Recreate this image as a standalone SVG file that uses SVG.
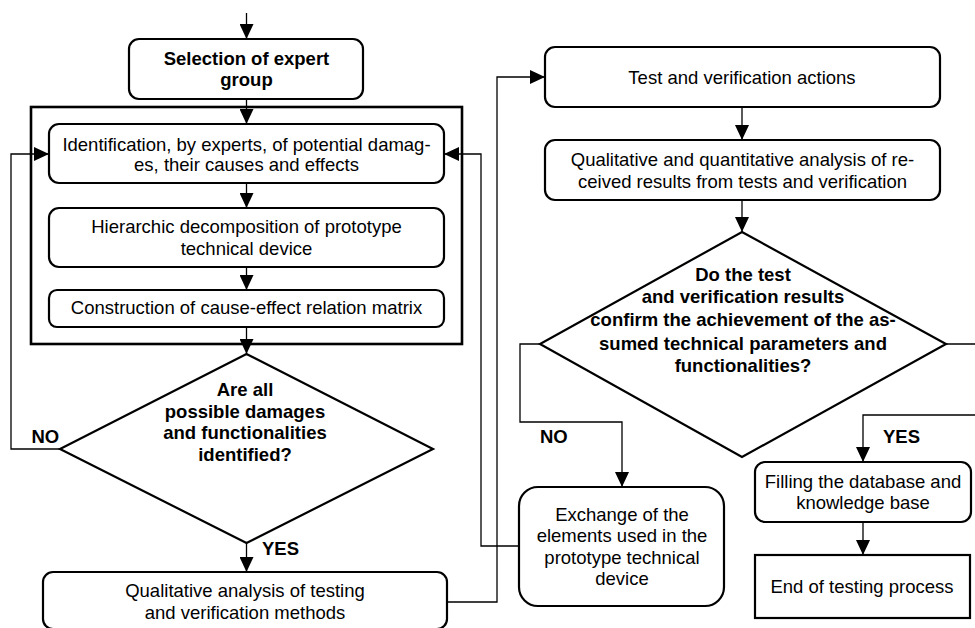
<svg xmlns="http://www.w3.org/2000/svg" width="975" height="628" viewBox="0 0 975 628">
<style>
.box{fill:#fff;stroke:#000;stroke-width:2.2}
.frame{fill:none;stroke:#000;stroke-width:2.6}
.con{fill:none;stroke:#000;stroke-width:1.3}
text{font-family:"Liberation Sans",Arial,sans-serif;font-size:18.5px;fill:#000;text-anchor:middle}
.b{font-weight:bold}
.lbl{font-weight:bold;text-anchor:start}
</style>
<defs>
<marker id="ah" markerUnits="userSpaceOnUse" markerWidth="15" markerHeight="14" refX="15" refY="7" orient="auto">
<path d="M0,0 L15,7 L0,14 z" fill="#000"/>
</marker>
</defs>
<rect id="frame" class="frame" x="31" y="107" width="431" height="237"/>
<g id="connectors">
<path class="con" d="M246.5,13 V39" marker-end="url(#ah)"/>
<path class="con" d="M246.5,99 V124" marker-end="url(#ah)"/>
<path class="con" d="M246.5,183 V208" marker-end="url(#ah)"/>
<path class="con" d="M246.5,267 V290" marker-end="url(#ah)"/>
<path class="con" d="M246.5,327 V354" marker-end="url(#ah)"/>
<path class="con" d="M60,449 H11 V154 H49" marker-end="url(#ah)"/>
<path class="con" d="M246.5,543 V572" marker-end="url(#ah)"/>
<path class="con" d="M447,602 H497 V77 H545" marker-end="url(#ah)"/>
<path class="con" d="M742,107 V140" marker-end="url(#ah)"/>
<path class="con" d="M742,200 V232" marker-end="url(#ah)"/>
<path class="con" d="M540,344 H520 V422 H622 V487" marker-end="url(#ah)"/>
<path class="con" d="M946,344 H985 V415 H863 V462" marker-end="url(#ah)"/>
<path class="con" d="M518,546 H481 V154 H444" marker-end="url(#ah)"/>
<path class="con" d="M863,522 V555" marker-end="url(#ah)"/>
</g>
<g id="selection">
<rect class="box" x="129" y="39" width="234" height="60" rx="10"/>
<text class="b" x="246.5" y="65">Selection of expert</text>
<text class="b" x="246.5" y="86">group</text>
</g>
<g id="identification">
<rect class="box" x="49" y="124" width="395" height="59" rx="10"/>
<text x="246.5" y="150.5">Identification, by experts, of potential damag-</text>
<text x="246.5" y="170.5">es, their causes and effects</text>
</g>
<g id="hierarchic">
<rect class="box" x="49" y="208" width="395" height="59" rx="10"/>
<text x="246.5" y="232.5">Hierarchic decomposition of prototype</text>
<text x="246.5" y="255">technical device</text>
</g>
<g id="construction">
<rect class="box" x="49" y="290" width="395" height="37" rx="8"/>
<text x="246.5" y="314">Construction of cause-effect relation matrix</text>
</g>
<g id="decision1">
<polygon class="box" points="246.5,354 433,449 246.5,543 60,449"/>
<text class="b" x="245" y="396">Are all</text>
<text class="b" x="245" y="417.5">possible damages</text>
<text class="b" x="245" y="438.5">and functionalities</text>
<text class="b" x="245" y="461">identified?</text>
</g>
<text id="no1" class="lbl" x="31.5" y="443">NO</text>
<text id="yes1" class="lbl" x="262" y="555">YES</text>
<g id="qualitative">
<rect class="box" x="43" y="572" width="404" height="57" rx="10"/>
<text x="245" y="596.5">Qualitative analysis of testing</text>
<text x="245" y="619">and verification methods</text>
</g>
<g id="test">
<rect class="box" x="545" y="47" width="395" height="60" rx="10"/>
<text x="742" y="84">Test and verification actions</text>
</g>
<g id="analysis">
<rect class="box" x="545" y="140" width="395" height="60" rx="10"/>
<text x="742.5" y="166">Qualitative and quantitative analysis of re-</text>
<text x="742.5" y="188">ceived results from tests and verification</text>
</g>
<g id="decision2">
<polygon class="box" points="742,232 946,344 742,457 540,344"/>
<text class="b" x="743" y="280.5">Do the test</text>
<text class="b" x="743" y="303.3">and verification results</text>
<text class="b" x="743" y="326">confirm the achievement of the as-</text>
<text class="b" x="743" y="350">sumed technical parameters and</text>
<text class="b" x="743" y="372">functionalities?</text>
</g>
<text id="no2" class="lbl" x="540" y="443">NO</text>
<text id="yes2" class="lbl" x="883" y="443">YES</text>
<g id="exchange">
<rect class="box" x="519" y="487" width="205" height="119" rx="19"/>
<text x="622" y="520.5">Exchange of the</text>
<text x="622" y="542">elements used in the</text>
<text x="622" y="564">prototype technical</text>
<text x="622" y="585">device</text>
</g>
<g id="filling">
<rect class="box" x="755" y="462" width="216" height="60" rx="10"/>
<text x="863" y="488.3">Filling the database and</text>
<text x="863" y="509.3">knowledge base</text>
</g>
<g id="end">
<rect class="box" x="755" y="555" width="215" height="63"/>
<text x="862" y="593">End of testing process</text>
</g>
</svg>
